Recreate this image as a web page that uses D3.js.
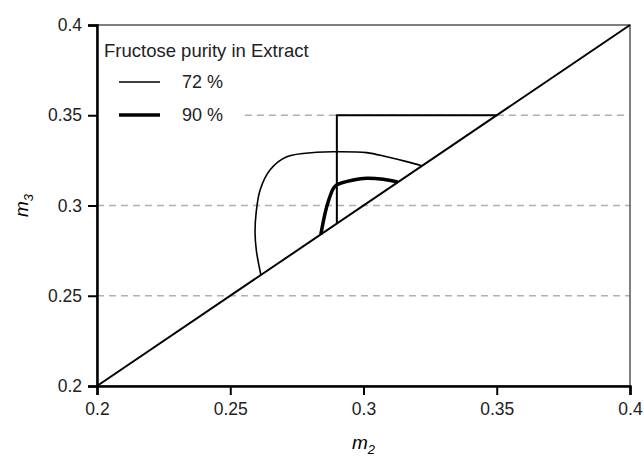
<!DOCTYPE html>
<html>
<head>
<meta charset="utf-8">
<script src="https://cdn.jsdelivr.net/npm/d3@7"></script>
<style>
  body { margin: 0; background: #fff; }
  text { font-family: "Liberation Sans", Arial, sans-serif; }
</style>
</head>
<body>
<div id="chart"></div>
<script>
// ticks
var xTicks = [0.2, 0.25, 0.3, 0.35, 0.4];
var yTicks = [0.2, 0.25, 0.3, 0.35, 0.4];
var gridY = [0.25, 0.3, 0.35];

// diagonal m3 = m2 and the triangle (vertex at 0.29 / 0.35)
var diagonal = [[0.2, 0.2], [0.4, 0.4]];
var triangle = [[0.29, 0.29], [0.29, 0.35], [0.35, 0.35]];

// region boundaries
var curve72 = [
  [0.2615, 0.2615], [0.2598, 0.2750], [0.2593, 0.2850], [0.2597, 0.2958],
  [0.2612, 0.3086], [0.2649, 0.3197], [0.2712, 0.3270], [0.2824, 0.3295],
  [0.2899, 0.3298], [0.3012, 0.3293], [0.3087, 0.3270], [0.3162, 0.3243],
  [0.3218, 0.3220]
];
var curve90 = [
  [0.2840, 0.2840], [0.2862, 0.2993], [0.2887, 0.3095], [0.2899, 0.3114],
  [0.2962, 0.3141], [0.3012, 0.3151], [0.3074, 0.3145], [0.3128, 0.3130]
];

var legendTitle = "Fructose purity in Extract";
var legendItems = [{label: "72 %", w: 1.5}, {label: "90 %", w: 3.5}];

var W = 644, H = 456;
var margin = {top: 25, right: 14, bottom: 70, left: 97};
var width = W - margin.left - margin.right,
    height = H - margin.top - margin.bottom;

var svg = d3.select("#chart").append("svg")
  .attr("width", W).attr("height", H)
  .append("g")
  .attr("transform", "translate(" + margin.left + "," + margin.top + ")");

var x = d3.scaleLinear().domain([0.2, 0.4]).range([0, width]);
var y = d3.scaleLinear().domain([0.2, 0.4]).range([height, 0]);
var line = d3.line().x(function(d) { return x(d[0]); }).y(function(d) { return y(d[1]); });

// dashed grid lines
svg.selectAll(".grid").data(gridY).enter().append("line")
  .attr("x1", function(d) { return d == 0.35 ? x(0.2555) : 0; })
  .attr("x2", width)
  .attr("y1", function(d) { return y(d); })
  .attr("y2", function(d) { return y(d); })
  .style("stroke", "#b0b0b0")
  .style("stroke-width", 1.5)
  .style("stroke-dasharray", "7,5");

// frame
svg.append("rect").attr("width", width).attr("height", height)
  .style("fill", "none").style("stroke", "#555").style("stroke-width", 1.5);

var fmt = function(d) { return String(+d.toFixed(2)); };

var xAxis = svg.append("g").attr("transform", "translate(0," + height + ")")
  .call(d3.axisBottom(x).tickValues(xTicks).tickFormat(fmt).tickSize(9).tickPadding(8));
var yAxis = svg.append("g")
  .call(d3.axisLeft(y).tickValues(yTicks).tickFormat(fmt).tickSize(9).tickPadding(6));
[xAxis, yAxis].forEach(function(a) {
  a.select(".domain").style("stroke", "#000").style("stroke-width", 2.5);
  a.selectAll(".tick line").style("stroke", "#000").style("stroke-width", 2);
  a.selectAll(".tick text").style("font-size", "17.5px").style("fill", "#222")
    .style("font-family", "'Liberation Sans', Arial, sans-serif");
});

// lines
svg.append("path").datum(diagonal).attr("d", line)
  .style("fill", "none").style("stroke", "#000").style("stroke-width", 2);
svg.append("path").datum(triangle).attr("d", line)
  .style("fill", "none").style("stroke", "#000").style("stroke-width", 2);
svg.append("path").datum(curve72).attr("d", line.curve(d3.curveCatmullRom))
  .style("fill", "none").style("stroke", "#000").style("stroke-width", 1.6);
svg.append("path").datum(curve90).attr("d", line.curve(d3.curveCatmullRom))
  .style("fill", "none").style("stroke", "#000").style("stroke-width", 3.5);

// legend
svg.append("text").attr("x", 7).attr("y", 32).text(legendTitle)
  .style("font-size", "18.5px").style("fill", "#222");
var lg = svg.selectAll(".lg").data(legendItems).enter().append("g")
  .attr("transform", function(d, i) { return "translate(0," + (57 + i * 33) + ")"; });
lg.append("line").attr("x1", 22).attr("x2", 63)
  .style("stroke", "#000").style("stroke-width", function(d) { return d.w; });
lg.append("text").attr("x", 85).attr("y", 6).text(function(d) { return d.label; })
  .style("font-size", "18px").style("fill", "#222");

// axis titles
var xl = svg.append("text").attr("x", width / 2).attr("y", height + 63)
  .attr("text-anchor", "middle").style("font-size", "19px").style("font-style", "italic");
xl.append("tspan").text("m");
xl.append("tspan").attr("dy", 5).style("font-size", "13px").text("2");

var yl = svg.append("text")
  .attr("transform", "translate(" + (-69) + "," + (height / 2) + ") rotate(-90)")
  .attr("text-anchor", "middle").style("font-size", "19px").style("font-style", "italic");
yl.append("tspan").text("m");
yl.append("tspan").attr("dy", 5).style("font-size", "13px").text("3");
</script>
</body>
</html>
